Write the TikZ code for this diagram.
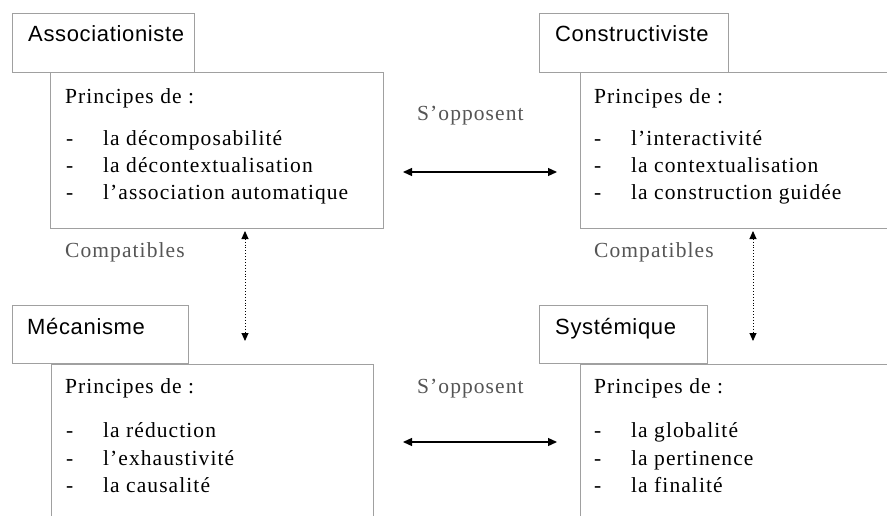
\documentclass[tikz,border=0pt]{standalone}
\usepackage{fontspec}
\setmainfont{Liberation Serif}[LetterSpace=5]
\newfontfamily\titlefont{Liberation Sans}[LetterSpace=3]
\usetikzlibrary{arrows.meta}
\definecolor{boxgray}{HTML}{A0A0A0}
\definecolor{notegray}{HTML}{555555}
\begin{document}
\begin{tikzpicture}[x=1pt,y=-1pt]
\tikzset{titlebox/.style = {draw=boxgray, line width=1.2pt, fill=white, anchor=north west, inner sep=0pt},
  principebox/.style = {draw=boxgray, line width=1.2pt, anchor=north west, inner sep=0pt},
  titletext/.style = {anchor=base west, inner sep=0pt, font=\titlefont\fontsize{22}{26}\selectfont},
  item/.style = {anchor=base west, inner sep=0pt, font=\fontsize{21.5}{25}\selectfont},
  note/.style = {anchor=base west, inner sep=0pt, text=notegray, font=\fontsize{21.5}{25}\selectfont},
  oppose/.style = {{Triangle[length=9pt,width=8pt]}-{Triangle[length=9pt,width=8pt]}, line width=1.3pt},
  compat/.style = {{Triangle[length=8pt,width=7pt]}-{Triangle[length=8pt,width=7pt]}, dotted, line width=0.9pt}}
\useasboundingbox (0,0) rectangle (887,516);
\clip (0,0) rectangle (887,516);
\fill[white] (0,0) rectangle (887,516);
% Associationiste
\node[principebox, minimum width=333pt, minimum height=156pt] (pa) at (50,72) {};
\node[titlebox, minimum width=182pt, minimum height=59pt] (ta) at (12,13) {};
\node[titletext] (ta-t) at (28,42) {Associationiste};
\node[item] (pa-h) at (65,104) {Principes de :};
\node[item] (pa-d1) at (66,146) {-};
\node[item] (pa-1) at (103,146) {la décomposabilité};
\node[item] (pa-d2) at (66,173) {-};
\node[item] (pa-2) at (103,173) {la décontextualisation};
\node[item] (pa-d3) at (66,200) {-};
\node[item] (pa-3) at (103,200) {l’association automatique};
% Constructiviste
\node[principebox, minimum width=340pt, minimum height=156pt] (pc) at (580,72) {};
\node[titlebox, minimum width=189pt, minimum height=59pt] (tc) at (539,13) {};
\node[titletext] (tc-t) at (555,42) {Constructiviste};
\node[item] (pc-h) at (594,104) {Principes de :};
\node[item] (pc-d1) at (594,146) {-};
\node[item] (pc-1) at (631,146) {l’interactivité};
\node[item] (pc-d2) at (594,173) {-};
\node[item] (pc-2) at (631,173) {la contextualisation};
\node[item] (pc-d3) at (594,200) {-};
\node[item] (pc-3) at (631,200) {la construction guidée};
% Mecanisme
\node[principebox, minimum width=322pt, minimum height=180pt] (pm) at (51,364) {};
\node[titlebox, minimum width=176pt, minimum height=58pt] (tm) at (12,305) {};
\node[titletext] (tm-t) at (27,334) {Mécanisme};
\node[item] (pm-h) at (65,393) {Principes de :};
\node[item] (pm-d1) at (66,437) {-};
\node[item] (pm-1) at (103,437) {la réduction};
\node[item] (pm-d2) at (66,465) {-};
\node[item] (pm-2) at (103,465) {l’exhaustivité};
\node[item] (pm-d3) at (66,492) {-};
\node[item] (pm-3) at (103,492) {la causalité};
% Systemique
\node[principebox, minimum width=340pt, minimum height=180pt] (ps) at (580,364) {};
\node[titlebox, minimum width=168pt, minimum height=58pt] (ts) at (539,305) {};
\node[titletext] (ts-t) at (555,334) {Systémique};
\node[item] (ps-h) at (594,393) {Principes de :};
\node[item] (ps-d1) at (594,437) {-};
\node[item] (ps-1) at (631,437) {la globalité};
\node[item] (ps-d2) at (594,465) {-};
\node[item] (ps-2) at (631,465) {la pertinence};
\node[item] (ps-d3) at (594,492) {-};
\node[item] (ps-3) at (631,492) {la finalité};
% relations
\node[note] (o1) at (417,121) {S’opposent};
\node[note] (o2) at (417,393) {S’opposent};
\node[note] (c1) at (65,258) {Compatibles};
\node[note] (c2) at (594,258) {Compatibles};
\coordinate (o1-l) at (403,172);
\coordinate (o1-r) at (557,172);
\coordinate (o2-l) at (403,442);
\coordinate (o2-r) at (557,442);
\coordinate (c1-t) at (245,231);
\coordinate (c1-b) at (245,341);
\coordinate (c2-t) at (753,231);
\coordinate (c2-b) at (753,341);
\draw[oppose] (o1-l) -- (o1-r);
\draw[oppose] (o2-l) -- (o2-r);
\draw[compat] (c1-t) -- (c1-b);
\draw[compat] (c2-t) -- (c2-b);
\end{tikzpicture}
\end{document}
